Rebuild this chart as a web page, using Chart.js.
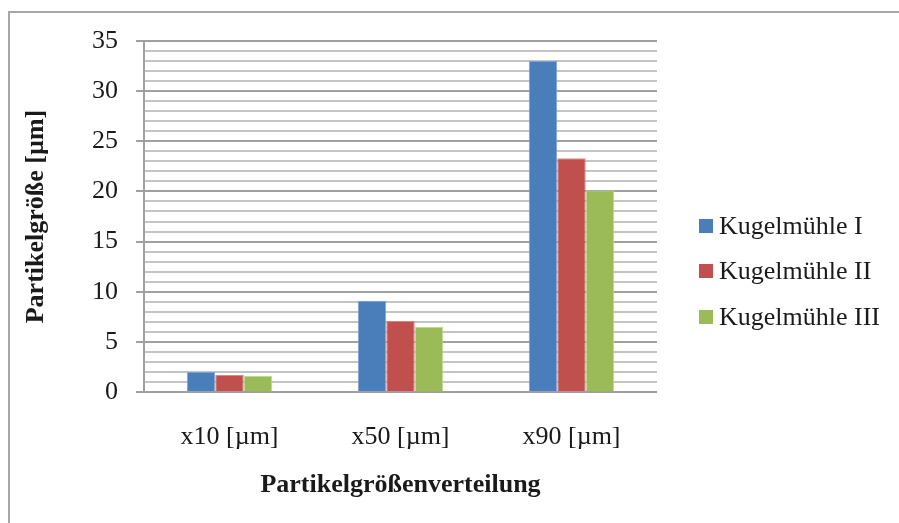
<!DOCTYPE html>
<html>
<head>
<meta charset="utf-8">
<script src="https://cdn.jsdelivr.net/npm/chart.js@4/dist/chart.umd.min.js"></script>
<style>
  html, body { margin: 0; padding: 0; background: #ffffff; }
  #wrap { position: relative; width: 899px; height: 523px; overflow: hidden; }
  #frame { position: absolute; left: 8px; top: 11px; width: 1000px; height: 1000px;
           border: 2px solid #a6a6a6; box-sizing: border-box; }
  canvas { position: absolute; left: 0; top: 0; }
</style>
</head>
<body>
<div id="wrap">
  <div id="frame"></div>
  <canvas id="chart" width="899" height="523"></canvas>
</div>
<script>
// Particle size distribution per ball mill
const categories = ['x10 [µm]', 'x50 [µm]', 'x90 [µm]'];
const seriesNames = ['Kugelmühle I', 'Kugelmühle II', 'Kugelmühle III'];
const millI = [2.0, 9.1, 33.0];
const millII = [1.7, 7.1, 23.3];
const millIII = [1.6, 6.5, 20.1];
const yTickLabels = [0, 5, 10, 15, 20, 25, 30, 35];

const colors = ['#4a7ebb', '#c0504d', '#9bbb59'];
const edges = ['#7fa3d4', '#d88a88', '#c0d896'];
const FONT = "'Liberation Serif', 'Times New Roman', serif";

// Legend drawn at the right, using each dataset's label and colour
const sideLegend = {
  id: 'sideLegend',
  afterDraw(chart) {
    const ctx = chart.ctx;
    ctx.save();
    ctx.font = '26px ' + FONT;
    ctx.textBaseline = 'middle';
    ctx.textAlign = 'left';
    const rows = [226, 271, 317];
    chart.data.datasets.forEach((ds, i) => {
      const y = rows[i];
      ctx.fillStyle = ds.backgroundColor;
      ctx.fillRect(699, y - 7, 14, 14);
      ctx.fillStyle = '#1a1a1a';
      ctx.fillText(ds.label, 719, y + 1);
    });
    ctx.restore();
  }
};

new Chart(document.getElementById('chart'), {
  type: 'bar',
  data: {
    labels: categories,
    datasets: [millI, millII, millIII].map((vals, i) => ({
      label: seriesNames[i],
      data: vals,
      backgroundColor: colors[i],
      borderColor: edges[i],
      borderWidth: 1,
      categoryPercentage: 0.5,
      barPercentage: 1.0
    }))
  },
  options: {
    responsive: false,
    animation: false,
    devicePixelRatio: 1,
    layout: { padding: { left: 10, top: 41, right: 242, bottom: 0 } },
    plugins: {
      legend: { display: false },
      tooltip: { enabled: false }
    },
    scales: {
      x: {
        grid: { display: false },
        border: { display: false },
        ticks: {
          color: '#1a1a1a',
          font: { family: FONT, size: 26 },
          padding: 22,
          maxRotation: 0
        },
        title: {
          display: true,
          text: 'Partikelgrößenverteilung',
          color: '#1a1a1a',
          font: { family: FONT, size: 26, weight: 'bold' },
          padding: { top: 0, bottom: 22 }
        },
        afterFit(scale) { scale.height = 131; }
      },
      y: {
        min: 0,
        max: 35,
        afterBuildTicks(scale) {
          const t = [];
          for (let v = 0; v <= 35; v++) t.push({ value: v });
          scale.ticks = t;
        },
        grid: {
          color: (c) => (yTickLabels.includes(c.tick.value) ? '#a0a0a0' : '#c4c4c4'),
          tickColor: (c) => (yTickLabels.includes(c.tick.value) ? '#a0a0a0' : 'rgba(0,0,0,0)'),
          lineWidth: 2,
          tickLength: 8
        },
        border: { display: true, color: '#a0a0a0', width: 2 },
        ticks: {
          color: '#1a1a1a',
          font: { family: FONT, size: 26 },
          padding: 18,
          autoSkip: false,
          callback: (v) => (yTickLabels.includes(v) ? String(v) : '')
        },
        title: {
          display: true,
          text: 'Partikelgröße [µm]',
          color: '#1a1a1a',
          font: { family: FONT, size: 26, weight: 'bold' },
          padding: { top: 11, bottom: 0 }
        },
        afterFit(scale) { scale.width = 134; }
      }
    }
  },
  plugins: [sideLegend]
});
</script>
</body>
</html>
